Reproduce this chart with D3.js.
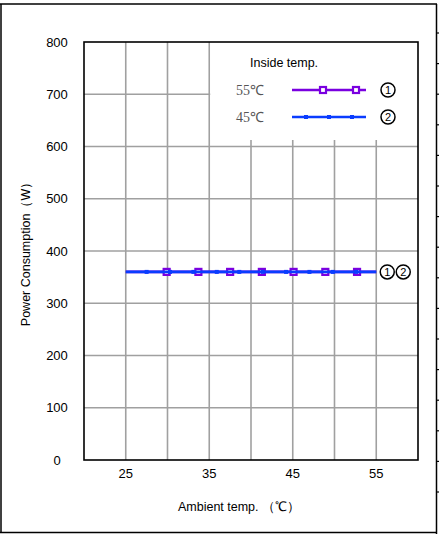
<!DOCTYPE html>
<html><head><meta charset="utf-8">
<script src="https://cdn.jsdelivr.net/npm/d3@7"></script>
<style>body{margin:0;background:#fff}svg{display:block}</style>
</head><body>
<script>
// ---- data ----
const xTicks = [25, 35, 45, 55];
const yTicks = [0, 100, 200, 300, 400, 500, 600, 700, 800];
const xGrid = [25, 30, 35, 40, 45, 50, 55];
const seriesNames = ["55℃", "45℃"];
const seriesIds = ["1", "2"];
const s1x = [25, 55];            // 55℃ line
const s1y = [360, 360];
const s1markX = [29.9, 33.7, 37.5, 41.3, 45.1, 48.9, 52.7];
const s1markY = [360, 360, 360, 360, 360, 360, 360];
const s2x = [25, 55];            // 45℃ line
const s2y = [360, 360];
const s2markX = [27.5, 30.3, 33.1, 35.9, 38.6, 41.4, 44.2, 47.0, 49.8, 52.6];
const s2markY = [360, 360, 360, 360, 360, 360, 360, 360, 360, 360];

const W = 439, H = 534;
const svg = d3.select("body").append("svg").attr("width", W).attr("height", H);
const L = 84, R = 418, T = 42, B = 460;
const x = d3.scaleLinear().domain([20, 60]).range([L, R]);
const y = d3.scaleLinear().domain([0, 800]).range([B, T]);
const purple = "#7a00e0", blue = "#0a3cff", grid = "#a0a0a0";
const sans = "Liberation Sans, Arial, sans-serif";

// outer frame
svg.append("line").attr("x1", 0).attr("x2", 437).attr("y1", 4).attr("y2", 4).attr("stroke", "#000").attr("stroke-width", 1.5);
svg.append("line").attr("x1", 1).attr("x2", 1).attr("y1", 4).attr("y2", 533).attr("stroke", "#000").attr("stroke-width", 1.5);
svg.append("line").attr("x1", 0).attr("x2", 437).attr("y1", 532.5).attr("y2", 532.5).attr("stroke", "#000").attr("stroke-width", 1.5);
svg.append("line").attr("x1", 436.5).attr("x2", 436.5).attr("y1", 4).attr("y2", 534).attr("stroke", "#000").attr("stroke-width", 1.5);
svg.append("g").selectAll("line").data(d3.range(16)).join("line")
  .attr("x1", 436.5).attr("x2", 439).attr("y1", i => 33 + i * 30.6).attr("y2", i => 33 + i * 30.6)
  .attr("stroke", "#000").attr("stroke-width", 1.2);

// grid
const g = svg.append("g");
g.selectAll("line.h").data(yTicks.slice(1, -1)).join("line")
  .attr("x1", L).attr("x2", R).attr("y1", d => y(d)).attr("y2", d => y(d))
  .attr("stroke", grid).attr("stroke-width", 1.6);
g.selectAll("line.v").data(xGrid).join("line")
  .attr("x1", d => x(d)).attr("x2", d => x(d)).attr("y1", T).attr("y2", B)
  .attr("stroke", grid).attr("stroke-width", 1.6);

// legend box (white, covering grid)
const legL = x(35) + 1, legB = 140;
svg.append("rect").attr("x", legL).attr("y", T).attr("width", R - legL).attr("height", legB - T).attr("fill", "#fff");

// plot border
svg.append("rect").attr("x", L).attr("y", T).attr("width", R - L).attr("height", B - T)
  .attr("fill", "none").attr("stroke", "#000").attr("stroke-width", 1.6);

// axis labels
svg.append("g").selectAll("text").data(yTicks).join("text")
  .attr("x", 57).attr("y", d => y(d)).attr("dy", "0.35em").attr("text-anchor", "middle")
  .attr("font-family", sans).attr("font-size", 13).text(d => d);
svg.append("g").selectAll("text").data(xTicks).join("text")
  .attr("x", d => x(d)).attr("y", 473).attr("dy", "0.35em").attr("text-anchor", "middle")
  .attr("font-family", sans).attr("font-size", 13).text(d => d);
svg.append("text").attr("x", 239).attr("y", 507).attr("dy", "0.35em").attr("text-anchor", "middle")
  .attr("font-family", sans).attr("font-size", 12.5)
  .text("Ambient temp.  （℃）");
svg.append("text").attr("transform", "translate(26,251) rotate(-90)").attr("dy", "0.35em")
  .attr("text-anchor", "middle").attr("font-family", sans).attr("font-size", 12.5)
  .text("Power Consumption（W）");

// series
const line = d3.line().x(d => x(d[0])).y(d => y(d[1]));
svg.append("path").attr("d", line(d3.zip(s1x, s1y))).attr("fill", "none").attr("stroke", purple).attr("stroke-width", 2.6);
svg.append("g").selectAll("rect").data(d3.zip(s1markX, s1markY)).join("rect")
  .attr("x", d => x(d[0]) - 3).attr("y", d => y(d[1]) - 3).attr("width", 6).attr("height", 6)
  .attr("fill", "#fff").attr("stroke", purple).attr("stroke-width", 2.2);
svg.append("path").attr("d", line(d3.zip(s2x, s2y))).attr("fill", "none").attr("stroke", blue).attr("stroke-width", 2.6);
svg.append("g").selectAll("rect").data(d3.zip(s2markX, s2markY)).join("rect")
  .attr("x", d => x(d[0]) - 2).attr("y", d => y(d[1]) - 2).attr("width", 4).attr("height", 4)
  .attr("fill", blue);

// circled ids at line end
function circled(cx, cy, t) {
  svg.append("circle").attr("cx", cx).attr("cy", cy).attr("r", 7).attr("fill", "#fff").attr("stroke", "#000").attr("stroke-width", 1.5);
  svg.append("text").attr("x", cx).attr("y", cy).attr("dy", "0.36em").attr("text-anchor", "middle")
    .attr("font-family", sans).attr("font-size", 11).text(t);
}
circled(x(55) + 11, y(s1y[1]), seriesIds[0]);
circled(x(55) + 27, y(s2y[1]), seriesIds[1]);

// legend
svg.append("text").attr("x", 250).attr("y", 63).attr("dy", "0.35em")
  .attr("font-family", sans).attr("font-size", 12.5).text("Inside temp.");
const legY = [90, 117];
[0, 1].forEach(i => {
  svg.append("text").attr("x", 236).attr("y", legY[i]).attr("dy", "0.35em")
    .attr("font-family", "Liberation Serif, Times New Roman, serif").attr("font-size", 14).attr("fill", "#555")
    .text(seriesNames[i]);
  const col = i === 0 ? purple : blue;
  svg.append("line").attr("x1", 292).attr("x2", 366).attr("y1", legY[i]).attr("y2", legY[i])
    .attr("stroke", col).attr("stroke-width", 2.6);
  circled(388, legY[i], seriesIds[i]);
});
svg.append("g").selectAll("rect").data([323, 356]).join("rect")
  .attr("x", d => d - 3).attr("y", legY[0] - 3).attr("width", 6).attr("height", 6)
  .attr("fill", "#fff").attr("stroke", purple).attr("stroke-width", 2.2);
svg.append("g").selectAll("rect").data([306, 329, 352]).join("rect")
  .attr("x", d => d - 2).attr("y", legY[1] - 2).attr("width", 4).attr("height", 4).attr("fill", blue);
</script>
</body></html>
